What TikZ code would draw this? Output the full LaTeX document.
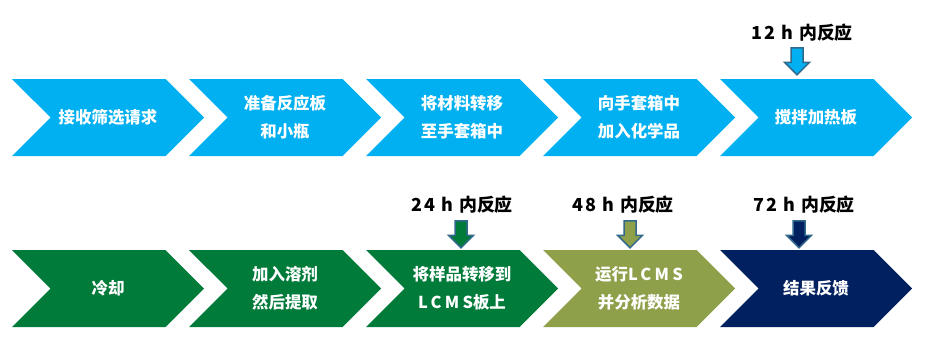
\documentclass[tikz,border=0pt]{standalone}
\usepackage{fontspec}
\setmainfont{Noto Sans CJK SC}
\usetikzlibrary{positioning,shapes.symbols}
\definecolor{flowBlue}{HTML}{00B0F0}
\definecolor{flowGreen}{HTML}{007B3A}
\definecolor{flowOlive}{HTML}{8EA04A}
\definecolor{flowNavy}{HTML}{002060}
\definecolor{flowEdge}{HTML}{31698C}
\newcommand{\wide}[1]{{\addfontfeatures{LetterSpace=20}#1}}
\newcommand{\hrs}[1]{{\addfontfeatures{LetterSpace=12}#1}\hspace{6bp}}
% block arrow pointing down, tip at #1
\newcommand{\droparrow}[2]{%
  \draw[flow/drop, fill=#2] (#1) -- ++(-12.5,12.5) -- ++(6.5,0) -- ++(0,14.5)
    -- ++(12,0) -- ++(0,-14.5) -- ++(6.5,0) -- cycle;}
\tikzset{
  flow/chevron/.style={signal, signal to=east, signal from=west,
    signal pointer angle=90, minimum width=192bp, minimum height=77bp,
    inner sep=0pt, align=center, text=white,
    font=\fontsize{16.5}{28}\selectfont\bfseries},
  flow/blue/.style={flow/chevron, fill=flowBlue},
  flow/green/.style={flow/chevron, fill=flowGreen},
  flow/olive/.style={flow/chevron, fill=flowOlive},
  flow/navy/.style={flow/chevron, fill=flowNavy},
  flow/drop/.style={draw=flowEdge, line width=1.5pt, line join=miter},
  flow/tag/.style={font=\fontsize{18}{20}\selectfont\bfseries,
    text=black, inner sep=0pt},
}
\begin{document}
\begin{tikzpicture}[
  x=1bp, y=1bp,
  on grid,
  node distance=177bp
]
\useasboundingbox (0,0) rectangle (942,359);
% top row
\node[flow/blue] (recv) at (108,241.5) {接收筛选请求};
\node[flow/blue, right=of recv] (prep) {准备反应板\\和小瓶};
\node[flow/blue, right=of prep] (move) {将材料转移\\至手套箱中};
\node[flow/blue, right=of move] (chem) {向手套箱中\\加入化学品};
\node[flow/blue, right=of chem] (stir) {搅拌加热板};
% bottom row
\node[flow/green, below=171bp of recv] (cool) {冷却};
\node[flow/green, right=of cool] (extr) {加入溶剂\\然后提取};
\node[flow/green, right=of extr] (plate) {将样品转移到\\\wide{LCMS}板上};
\node[flow/olive, right=of plate] (lcms) {运行\wide{LCMS}\\并分析数据};
\node[flow/navy, right=of lcms] (report) {结果反馈};
% time marks
\coordinate (a12) at ([xshift=-19bp, yshift=4bp]stir.north);
\coordinate (a24) at ([xshift=-1bp, yshift=2bp]plate.north);
\coordinate (a48) at ([xshift=-9bp, yshift=2bp]lcms.north);
\coordinate (a72) at ([xshift=-17bp, yshift=2bp]report.north);
\droparrow{a12}{flowBlue}
\droparrow{a24}{flowGreen}
\droparrow{a48}{flowOlive}
\droparrow{a72}{flowNavy}
\node[flow/tag] (t12) at ([xshift=5bp, yshift=42bp]a12) {\hrs{12 h}内反应};
\node[flow/tag] (t24) at ([xshift=1bp, yshift=43bp]a24) {\hrs{24 h}内反应};
\node[flow/tag] (t48) at ([xshift=-7bp, yshift=43bp]a48) {\hrs{48 h}内反应};
\node[flow/tag] (t72) at ([xshift=5bp, yshift=43bp]a72) {\hrs{72 h}内反应};
\end{tikzpicture}
\end{document}
